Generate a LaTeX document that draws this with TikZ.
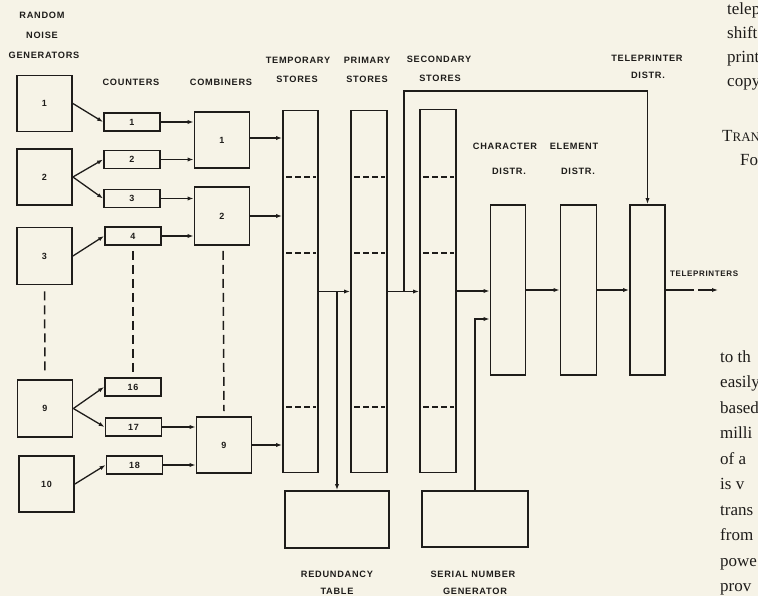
\documentclass[tikz,border=0pt]{standalone}
\usepackage{fontspec}
\setmainfont{Liberation Serif}
\newfontfamily\lab[LetterSpace=8]{Liberation Sans}
\usetikzlibrary{arrows.meta,calc}
\definecolor{paper}{RGB}{246,243,231}
\definecolor{ink}{RGB}{30,28,26}
\begin{document}
\begin{tikzpicture}[x=1pt,y=-1pt,
  box/.style={draw=ink,line width=1.8pt,inner sep=0pt,text=ink,
    font=\lab\bfseries\fontsize{9}{10}\selectfont},
  lbl/.style={font=\lab\bfseries\fontsize{9.2}{10}\selectfont,text=ink,inner sep=0pt},
  arr/.style={draw=ink,line width=1.3pt,-{Latex[length=6pt,width=4.2pt]}},
  ln/.style={draw=ink,line width=1.3pt},
  dsh/.style={draw=ink,line width=1.5pt,dash pattern=on 9pt off 5pt},
  sdsh/.style={draw=ink,line width=1.4pt,dash pattern=on 6pt off 3pt},
  txt/.style={font=\fontsize{17}{18}\selectfont,text=ink,anchor=base west,inner sep=0pt}]
\clip (0,0) rectangle (758,596);
\fill[paper] (0,0) rectangle (758,596);

% ---- labels
\node[lbl] (lrand) at (42,15) {RANDOM};
\node[lbl] (lnoise) at (42,35) {NOISE};
\node[lbl] (lgen) at (44,55) {GENERATORS};
\node[lbl] (lcount) at (131,82) {COUNTERS};
\node[lbl] (lcomb) at (221,82) {COMBINERS};
\node[lbl] (ltemp1) at (298,60) {TEMPORARY};
\node[lbl] (ltemp2) at (297,79) {STORES};
\node[lbl] (lprim1) at (367,60) {PRIMARY};
\node[lbl] (lprim2) at (367,79) {STORES};
\node[lbl] (lsec1) at (439,59) {SECONDARY};
\node[lbl] (lsec2) at (440,78) {STORES};
\node[lbl] (ltel1) at (647,58) {TELEPRINTER};
\node[lbl] (ltel2) at (648,75) {DISTR.};
\node[lbl] (lchar1) at (505,146) {CHARACTER};
\node[lbl] (lchar2) at (509,171) {DISTR.};
\node[lbl] (lel1) at (574,146) {ELEMENT};
\node[lbl] (lel2) at (578,171) {DISTR.};
\node[lbl] (lred1) at (337,574) {REDUNDANCY};
\node[lbl] (lred2) at (337,591) {TABLE};
\node[lbl] (lser1) at (473,574) {SERIAL NUMBER};
\node[lbl] (lser2) at (475,591) {GENERATOR};
\node[lbl,font=\lab\bfseries\fontsize{8}{9}\selectfont,anchor=west] (ltp) at (670,274) {TELEPRINTERS};

% ---- random noise generators
\node[box,minimum width=55pt,minimum height=56pt] (r1) at (44.5,103.5) {1};
\node[box,minimum width=55pt,minimum height=56pt] (r2) at (44.5,177) {2};
\node[box,minimum width=55pt,minimum height=57pt] (r3) at (44.5,256) {3};
\node[box,minimum width=55pt,minimum height=57pt] (r9) at (45,408.5) {9};
\node[box,minimum width=55pt,minimum height=56pt] (r10) at (46.5,484) {10};

% ---- counters
\node[box,minimum width=56pt,minimum height=18pt] (c1) at (132,122) {1};
\node[box,minimum width=56pt,minimum height=18pt] (c2) at (132,159.5) {2};
\node[box,minimum width=56pt,minimum height=18pt] (c3) at (132,198.5) {3};
\node[box,minimum width=56pt,minimum height=18pt] (c4) at (133,236) {4};
\node[box,minimum width=56pt,minimum height=18pt] (c16) at (133,387) {16};
\node[box,minimum width=56pt,minimum height=18pt] (c17) at (133.5,427) {17};
\node[box,minimum width=56pt,minimum height=18pt] (c18) at (134.5,465) {18};

% ---- combiners
\node[box,minimum width=55pt,minimum height=56pt] (m1) at (222,140) {1};
\node[box,minimum width=55pt,minimum height=58pt] (m2) at (222,216) {2};
\node[box,minimum width=55pt,minimum height=56pt] (m9) at (224,445) {9};

% ---- stores
\node[box,minimum width=35pt,minimum height=362pt] (t) at (300.5,291.5) {};
\node[box,minimum width=36pt,minimum height=362pt] (p) at (369,291.5) {};
\node[box,minimum width=36pt,minimum height=363pt] (s) at (438,291) {};
\foreach \n in {t,p,s}{
  \foreach \yy in {177,253,407}{
    \draw[sdsh] ($(\n.west|-0,\yy)+(4,0)$) -- ($(\n.east|-0,\yy)+(-3,0)$);
  }
}

% ---- distributors
\node[box,minimum width=35pt,minimum height=170pt] (cd) at (508,290) {};
\node[box,minimum width=36pt,minimum height=170pt] (ed) at (578.5,290) {};
\node[box,minimum width=35pt,minimum height=170pt] (td) at (647.5,290) {};

% ---- tables
\node[box,minimum width=104pt,minimum height=57pt] (red) at (337,519.5) {};
\node[box,minimum width=106pt,minimum height=56pt] (ser) at (475,519) {};

% ---- generator to counter arrows
\draw[arr] (r1.east) -- (c1.west);
\draw[arr] (r2.east) -- (c2.west);
\draw[arr] (r2.east) -- (c3.west);
\draw[arr] (r3.east) -- (c4.west);
\draw[arr] (r9.east) -- (c16.west);
\draw[arr] (r9.east) -- (c17.west);
\draw[arr] (r10.east) -- (c18.west);

% ---- counter to combiner arrows
\draw[arr] (c1.east) -- (c1.east -| m1.west);
\draw[arr] (c2.east) -- (c2.east -| m1.west);
\draw[arr] (c3.east) -- (c3.east -| m2.west);
\draw[arr] (c4.east) -- (c4.east -| m2.west);
\draw[arr] (c17.east) -- (c17.east -| m9.west);
\draw[arr] (c18.east) -- (c18.east -| m9.west);

% ---- dashed continuations
\draw[dsh] ($(r3.south)+(0,6)$) -- ($(r9.north)+(0,-6)$);
\draw[dsh] ($(c4.south)+(0,5)$) -- ($(c16.north)+(0,-5)$);
\draw[dsh] ($(m2.south)+(1,5)$) -- ($(m9.north)+(0,-5)$);

% ---- combiners to temporary stores
\draw[arr] ($(m1.east)+(0,-2)$) -- ($(m1.east -| t.west)+(0,-2)$);
\draw[arr] (m2.east) -- (m2.east -| t.west);
\draw[arr] (m9.east) -- (m9.east -| t.west);

% ---- store chain
\draw[arr] (t.east) -- (t.east -| p.west);
\draw[arr] (red.north |- t.east) -- (red.north);
\draw[arr] (p.east) -- (p.east -| s.west);
\coordinate (j2) at (404,291.5);
\coordinate (topc) at (647.5,91);
\draw[arr] (j2) |- (topc) -- (td.north);
\draw[arr] (s.east) -- (s.east -| cd.west);
\draw[arr] (ser.north) |- ($(cd.west)+(0,29)$);
\draw[arr] (cd.east) -- (ed.west);
\draw[arr] (ed.east) -- (td.west);
\coordinate (gap1) at (694,290);
\coordinate (gap2) at (698,290);
\coordinate (out) at (718,290);
\draw[ln] (td.east) -- (gap1);
\draw[arr] (gap2) -- (out);

% ---- article text at the right edge
\node[txt] (w1) at (727,15) {telepr};
\node[txt] (w2) at (727,39) {shift};
\node[txt] (w3) at (727,63) {print};
\node[txt] (w4) at (727,87) {copy};
\node[txt] (w5) at (722,142) {T{\fontsize{13}{14}\selectfont RAN}};
\node[txt] (w6) at (740,166) {For};
\node[txt] (w7) at (720,362) {to th};
\node[txt] (w8) at (720,387.5) {easily};
\node[txt] (w9) at (720,413) {based};
\node[txt] (w10) at (720,438.5) {milli};
\node[txt] (w11) at (720,464) {of a};
\node[txt] (w12) at (720,489.5) {is v};
\node[txt] (w13) at (720,515) {trans};
\node[txt] (w14) at (720,540.5) {from};
\node[txt] (w15) at (720,566) {powe};
\node[txt] (w16) at (720,591.5) {prov};
\end{tikzpicture}
\end{document}
